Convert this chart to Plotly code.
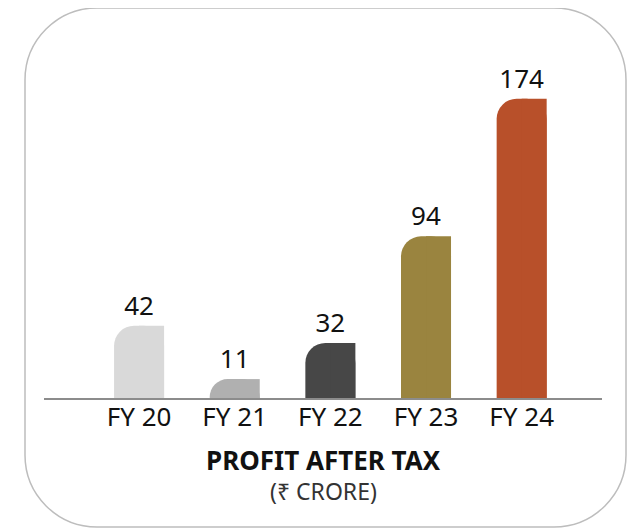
import plotly.graph_objects as go

categories = ["FY 20", "FY 21", "FY 22", "FY 23", "FY 24"]
profit = [42, 11, 32, 94, 174]
bar_colors = ["#d9d9d9", "#b0b0b0", "#474747", "#9a843f", "#b8502a"]
title_main = "PROFIT AFTER TAX"
title_sub = "(₹ CRORE)"

OFF = 8  # page body margin
W, H = 643 - OFF, 528 - OFF
ML, MR, MT, MB = 44 - OFF, 41, 48 - OFF, 130
PW, PH = W - ML - MR, H - MT - MB

BAR_W = 0.523
FONT = "Noto Sans"

fig = go.Figure()
fig.add_trace(go.Bar(
    x=categories, y=profit, width=BAR_W,
    marker=dict(color=bar_colors, cornerradius=20, line=dict(width=0)),
    text=[str(v) for v in profit], textposition="outside",
    textfont=dict(family=FONT, size=26, color="#111111"),
    cliponaxis=False, hoverinfo="skip",
))
fig.add_trace(go.Bar(
    x=categories, y=profit, width=BAR_W / 2, offset=0,
    marker=dict(color=bar_colors, line=dict(width=0)),
    hoverinfo="skip",
))

fx0, fx1, fy0, fy1 = 25 - OFF, 626 - OFF, 8 - OFF, 527 - OFF
R = 72
def px(x):
    return (x - ML) / PW
def py(y):
    return (H - MB - y) / PH
k = 0.5523
path = (
    f"M {px(fx0 + R)} {py(fy0)} L {px(fx1 - R)} {py(fy0)} "
    f"C {px(fx1 - R + k*R)} {py(fy0)} {px(fx1)} {py(fy0 + R - k*R)} {px(fx1)} {py(fy0 + R)} "
    f"L {px(fx1)} {py(fy1 - R)} "
    f"C {px(fx1)} {py(fy1 - R + k*R)} {px(fx1 - R + k*R)} {py(fy1)} {px(fx1 - R)} {py(fy1)} "
    f"L {px(fx0 + R)} {py(fy1)} "
    f"C {px(fx0 + R - k*R)} {py(fy1)} {px(fx0)} {py(fy1 - R + k*R)} {px(fx0)} {py(fy1 - R)} "
    f"L {px(fx0)} {py(fy0 + R)} "
    f"C {px(fx0)} {py(fy0 + R - k*R)} {px(fx0 + R - k*R)} {py(fy0)} {px(fx0 + R)} {py(fy0)} Z"
)
fig.add_shape(type="path", path=path, xref="paper", yref="paper",
              line=dict(color="#bdbdbd", width=1.5), fillcolor="rgba(0,0,0,0)", layer="below")

fig.add_annotation(text=f"<b>{title_main}</b>", xref="paper", yref="paper",
                   x=px(323 - OFF), y=py(460 - OFF), xanchor="center", yanchor="middle",
                   showarrow=False, font=dict(family=FONT, size=26, color="#111111"))
fig.add_annotation(text=title_sub, xref="paper", yref="paper",
                   x=px(323 - OFF), y=py(491 - OFF), xanchor="center", yanchor="middle",
                   showarrow=False, font=dict(family=FONT, size=23, color="#333333"))

fig.update_layout(
    width=W, height=H,
    margin=dict(l=ML, r=MR, t=MT, b=MB, pad=0),
    paper_bgcolor="white", plot_bgcolor="white",
    barmode="overlay", showlegend=False,
    xaxis=dict(range=[-0.994, 4.84], showline=True, linecolor="#8c8c8c", linewidth=2,
               ticks="", showgrid=False, zeroline=False, fixedrange=True,
               ticklabelstandoff=-5,
               tickfont=dict(family=FONT, size=26, color="#111111")),
    yaxis=dict(range=[0, PH / 1.7195], visible=False, fixedrange=True),
)

fig.write_html("out.html")
